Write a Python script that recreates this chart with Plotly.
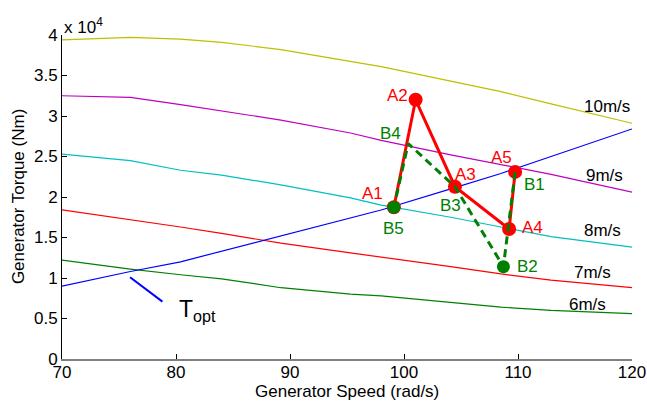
import plotly.graph_objects as go

# Generator speed grid (rad/s) and torque curves (Nm) for each wind speed
speed = [70, 76, 80.4, 84, 89.2, 95.3, 98, 104.1, 108.5, 112.9, 120]
torque_6 = [12200, 11100, 10400, 9900, 8800, 8000, 7800, 7000, 6400, 6000, 5600]
torque_7 = [18400, 17200, 16300, 15500, 14300, 13100, 12600, 11400, 10500, 9750, 8800]
torque_8 = [25300, 24500, 23300, 22700, 21500, 19900, 19000, 17500, 16300, 15100, 13800]
torque_9 = [32500, 32300, 31400, 30600, 29500, 27900, 27000, 25200, 24000, 22800, 20600]
torque_10 = [39400, 39700, 39500, 39100, 38200, 36800, 36100, 34300, 33000, 31500, 29100]
torque_opt = [9000, 10800, 12000, 13300, 15200, 17400, 18400, 21000, 22900, 25000, 28400]

wind_labels = ["6m/s", "7m/s", "8m/s", "9m/s", "10m/s"]

# Operating trajectories
a_names = ["A1", "A2", "A3", "A4", "A5"]
a_speed = [99.11, 101.02, 104.47, 109.22, 109.75]
a_torque = [18730, 32000, 21270, 16050, 23100]

b_names = ["B1", "B2", "B3", "B4", "B5"]
b_speed = [109.75, 108.72, 104.47, 100.37, 99.11]
b_torque = [23100, 11400, 21270, 26600, 18730]

# Axis ticks
x_ticks = [70, 80, 90, 100, 110, 120]
y_ticks = [0, 5000, 10000, 15000, 20000, 25000, 30000, 35000, 40000]
y_tick_text = ["0", "0.5", "1", "1.5", "2", "2.5", "3", "3.5", "4"]

BLUE = "#0000FF"
GREEN = "#008000"
RED = "#FF0000"
CYAN = "#00BFBF"
MAGENTA = "#BF00BF"
YELLOW = "#BFBF00"
FONT = "Liberation Sans, Arial, sans-serif"

fig = go.Figure()

for vals, col in [(torque_10, YELLOW), (torque_9, MAGENTA), (torque_8, CYAN),
                  (torque_7, RED), (torque_6, GREEN), (torque_opt, BLUE)]:
    fig.add_trace(go.Scatter(x=speed, y=vals, mode="lines",
                             line=dict(color=col, width=1.2), hoverinfo="skip"))

# A trajectory: solid red with markers
fig.add_trace(go.Scatter(x=a_speed, y=a_torque, mode="lines+markers",
                         line=dict(color=RED, width=3),
                         marker=dict(color=RED, size=14)))
# B trajectory: dashed green line on top
fig.add_trace(go.Scatter(x=b_speed, y=b_torque, mode="lines",
                         line=dict(color=GREEN, width=3, dash="8px,5px")))
# Green markers at B2 and B5
fig.add_trace(go.Scatter(x=[b_speed[1], b_speed[4]], y=[b_torque[1], b_torque[4]],
                         mode="markers", marker=dict(color=GREEN, size=13)))

annotations = []

# Point labels
a_label_pos = [(97.21, 20450), (99.46, 32590), (105.41, 22720), (111.27, 16260), (108.55, 24900)]
b_label_pos = [(111.48, 21520), (110.84, 11480), (104.09, 19010), (98.85, 27780), (99.11, 16130)]
for name, (lx, ly) in zip(a_names, a_label_pos):
    annotations.append(dict(x=lx, y=ly, text=name, showarrow=False,
                            font=dict(family=FONT, size=17, color=RED)))
for name, (lx, ly) in zip(b_names, b_label_pos):
    annotations.append(dict(x=lx, y=ly, text=name, showarrow=False,
                            font=dict(family=FONT, size=17, color=GREEN)))

# Wind speed labels
wind_label_pos = [(116.1, 6670), (116.54, 10650), (117.42, 15840), (117.57, 22630), (117.78, 31230)]
for name, (lx, ly) in zip(wind_labels, wind_label_pos):
    annotations.append(dict(x=lx, y=ly, text=name, showarrow=False,
                            font=dict(family=FONT, size=17, color="black")))

# T_opt label
annotations.append(dict(x=80.1, y=5990, text="T<sub>opt</sub>", showarrow=False,
                        xanchor="left", yanchor="middle",
                        font=dict(family=FONT, size=23, color="black")))

# Exponent marker above the y axis
annotations.append(dict(xref="paper", yref="paper", x=0, y=1.003, yshift=-5,
                        text="x 10<sup>4</sup>",
                        showarrow=False, xanchor="left", yanchor="bottom",
                        font=dict(family=FONT, size=17, color="black")))

# Axis titles
annotations.append(dict(xref="paper", yref="paper", x=0.5, y=-0.1,
                        text="Generator Speed (rad/s)", showarrow=False,
                        xanchor="center", yanchor="middle",
                        font=dict(family=FONT, size=17, color="black")))
annotations.append(dict(xref="paper", yref="paper", x=-0.077, y=0.5,
                        text="Generator Torque (Nm)", showarrow=False, textangle=-90,
                        xanchor="center", yanchor="middle",
                        font=dict(family=FONT, size=17, color="black")))

fig.update_layout(
    width=647, height=402,
    margin=dict(l=62, r=15, t=35, b=43, autoexpand=False),
    paper_bgcolor="white", plot_bgcolor="white",
    showlegend=False,
    annotations=annotations,
    shapes=[dict(type="line", xref="x", yref="y", x0=75.97, y0=10090, x1=78.81, y1=7080,
                 line=dict(color=BLUE, width=2))],
    font=dict(family=FONT, size=17, color="black"),
)
fig.update_xaxes(range=[70, 120], tickvals=x_ticks, ticks="inside", ticklen=5,
                 tickcolor="black", showline=True, linecolor="#808080", linewidth=2,
                 showgrid=False, zeroline=False, automargin=False,
                 ticklabelstandoff=-3,
                 tickfont=dict(family=FONT, size=17, color="black"))
fig.update_yaxes(range=[0, 40000], tickvals=y_ticks, ticktext=y_tick_text,
                 ticks="inside", ticklen=5, tickcolor="black", showline=True,
                 linecolor="black", linewidth=1, showgrid=False, zeroline=False,
                 automargin=False,
                 tickfont=dict(family=FONT, size=17, color="black"))

fig.write_html("out.html")
